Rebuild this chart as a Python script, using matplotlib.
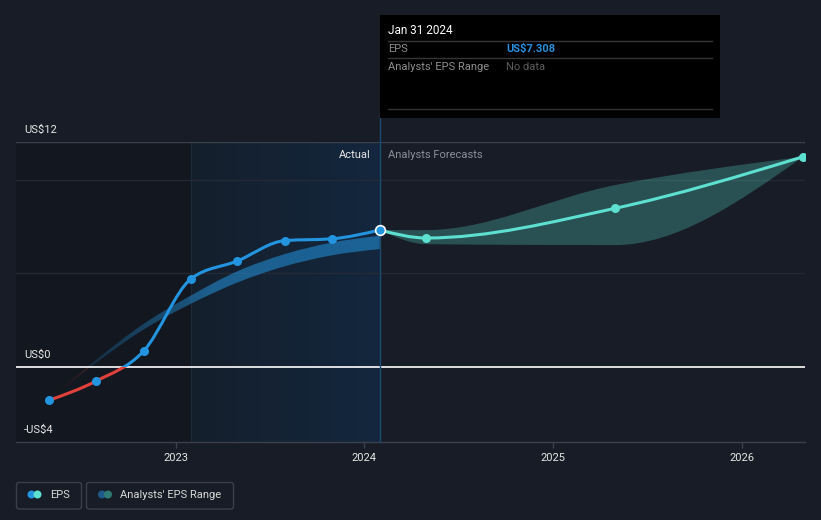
"""EPS history and analyst forecast chart (dark theme)."""

import numpy as np
import matplotlib

matplotlib.use("Agg")
import matplotlib.pyplot as plt
import matplotlib.dates as mdates
from matplotlib.patches import PathPatch, Rectangle, FancyBboxPatch, Circle
from matplotlib.path import Path

plt.rcParams["font.family"] = ["Roboto", "DejaVu Sans"]

# ---- data -----------------------------------------------------------------
actual_dates = ["2022-04-30", "2022-07-31", "2022-10-31", "2023-01-31",
                "2023-04-30", "2023-07-31", "2023-10-31", "2024-01-31"]
actual_eps = [-1.78, -0.75, 0.85, 4.71, 5.65, 6.74, 6.84, 7.308]
past_range_low = [-1.78, 0.22, 2.0, 3.38, 4.5, 5.37, 5.96, 6.29]
past_range_high = [-1.78, 0.38, 2.3, 3.82, 5.1, 6.02, 6.64, 7.0]

forecast_dates = ["2024-01-31", "2024-04-30", "2025-04-30", "2026-04-30"]
forecast_eps = [7.308, 6.88, 8.46, 11.22]
forecast_low = [7.308, 6.55, 6.5, 11.22]
forecast_high = [7.308, 7.3, 9.7, 11.22]

year_ticks = ["2023", "2024", "2025", "2026"]
y_label_values = [12, 0, -4]
y_label_texts = ["US$12", "US$0", "-US$4"]

# ---- style ----------------------------------------------------------------
BG = "#171c26"
BLUE = "#2394df"
RED = "#e0413b"
TEAL = "#5de0d0"
W, H = 821, 520


def num(dates):
    return mdates.date2num(np.array(dates, dtype="datetime64[D]"))


def smooth(x, y):
    """Monotone cubic bezier control points (d3 monotoneX style)."""
    x = np.asarray(x, float)
    y = np.asarray(y, float)
    h = np.diff(x)
    s = np.diff(y) / h
    m = np.zeros_like(y)
    for i in range(1, len(x) - 1):
        p = (s[i - 1] * h[i] + s[i] * h[i - 1]) / (h[i - 1] + h[i])
        m[i] = (np.sign(s[i - 1]) + np.sign(s[i])) * min(abs(s[i - 1]), abs(s[i]), 0.5 * abs(p))
    m[0] = (3 * s[0] - m[1]) / 2
    m[-1] = (3 * s[-1] - m[-2]) / 2
    verts = []
    for i in range(len(x) - 1):
        dx = h[i] / 3
        verts += [(x[i] + dx, y[i] + dx * m[i]), (x[i + 1] - dx, y[i + 1] - dx * m[i + 1]),
                  (x[i + 1], y[i + 1])]
    return verts


def line_path(x, y):
    verts = [(x[0], y[0])] + smooth(x, y)
    return Path(verts, [Path.MOVETO] + [Path.CURVE4] * (len(verts) - 1))


def band_path(x, lo, hi):
    upper = smooth(x, hi)
    lower = smooth(x[::-1], lo[::-1])
    verts = [(x[0], hi[0])] + upper + [(x[-1], lo[-1])] + lower + [(x[0], hi[0])]
    codes = ([Path.MOVETO] + [Path.CURVE4] * len(upper) + [Path.LINETO]
             + [Path.CURVE4] * len(lower) + [Path.CLOSEPOLY])
    return Path(verts, codes)


xa = num(actual_dates)
xf = num(forecast_dates)
x_left = num(["2022-02-26"])[0]
x_right = num(["2026-05-03"])[0]
x_q_start = num(["2023-01-31"])[0]
x_now = xa[-1]

fig = plt.figure(figsize=(W / 100, H / 100), dpi=100, facecolor=BG)
ax = fig.add_axes([16 / W, 1 - 442 / H, 789 / W, 300 / H])
ax.set_facecolor(BG)

# background regions
ax.axvspan(x_left, x_q_start, color="#13171f", lw=0, zorder=0)
grad = np.zeros((1, 256, 4))
c0 = np.array([21, 31, 44]) / 255
c1 = np.array([19, 39, 62]) / 255
t = np.linspace(0, 1, 256)
grad[0, :, :3] = c0 + (c1 - c0) * t[:, None]
grad[0, :, 3] = 1
ax.imshow(grad, extent=[x_q_start, x_now, -4, 12], aspect="auto", origin="lower",
          interpolation="bilinear", zorder=0.5)
ax.plot([x_q_start, x_q_start], [-4, 12], color="#1c2a3a", lw=0.8, zorder=0.6)

# grid lines
ax.axhline(12, color="#3b414b", lw=1, zorder=1)
for v in (10, 5):
    ax.axhline(v, color="#232a35", lw=1, zorder=1)

# past analysts' range band with left fade
past_patch = PathPatch(band_path(xa, np.array(past_range_low), np.array(past_range_high)),
                       facecolor="none", edgecolor="none")
ax.add_patch(past_patch)
rows, cols = 320, 400
band_img = np.zeros((rows, cols, 4))
yy = np.linspace(-4, 12, rows)
xx = np.linspace(xa[0], x_now, cols)
blue_rgb = np.array(matplotlib.colors.to_rgb(BLUE))
red_rgb = np.array(matplotlib.colors.to_rgb(RED))
band_img[yy >= 0, :, :3] = blue_rgb
band_img[yy < 0, :, :3] = red_rgb
fade = np.clip((xx - xa[0]) / (x_q_start + 40 - xa[0]), 0, 1) ** 0.85
band_img[:, :, 3] = 0.55 * fade[None, :]
im = ax.imshow(band_img, extent=[xa[0], x_now, -4, 12], aspect="auto", origin="lower",
               interpolation="bilinear", zorder=2)
im.set_clip_path(past_patch)

# forecast band
ax.add_patch(PathPatch(band_path(xf, np.array(forecast_low), np.array(forecast_high)),
                       facecolor=TEAL, alpha=0.27, edgecolor="none", zorder=2))

# zero line
ax.axhline(0, color="white", lw=1.2, zorder=2.5)

# now line
ax.plot([x_now, x_now], [-4, 13.3], color="#1d4a72", lw=1, clip_on=False, zorder=2.6)

# actual EPS line: blue above zero, red below
eps_path = line_path(xa, actual_eps)
above = Rectangle((x_left, 0), x_right - x_left, 40, transform=ax.transData)
below = Rectangle((x_left, -40), x_right - x_left, 40, transform=ax.transData)
p_blue = PathPatch(eps_path, facecolor="none", edgecolor=BLUE, lw=2.2, zorder=3, capstyle="round")
p_red = PathPatch(eps_path, facecolor="none", edgecolor=RED, lw=2.2, zorder=3, capstyle="round")
ax.add_patch(p_blue)
ax.add_patch(p_red)
p_blue.set_clip_path(above)
p_red.set_clip_path(below)

# forecast line
ax.add_patch(PathPatch(line_path(xf, forecast_eps), facecolor="none", edgecolor=TEAL,
                       lw=2.2, zorder=3))

# markers
ax.plot(xa[:-1], actual_eps[:-1], "o", ms=6.5, color=BLUE, mec="none", zorder=4)
ax.plot(xf[1:], forecast_eps[1:], "o", ms=6.5, color=TEAL, mec="none", zorder=4)
ax.plot(xa[-1:], actual_eps[-1:], "o", ms=7, color=BLUE, mec="white", mew=1.2, zorder=5)

ax.set_xlim(x_left, x_right)
ax.set_ylim(-4, 12)

# axes cosmetics
for side in ("top", "left", "right"):
    ax.spines[side].set_visible(False)
ax.spines["bottom"].set_color("#3b414b")
ax.spines["bottom"].set_linewidth(1)
ax.set_yticks([])
ax.set_xticks(num([f"{y}-01-01" for y in year_ticks]))
ax.set_xticklabels(year_ticks)
ax.tick_params(axis="x", length=4, width=1, color="#3b414b", labelcolor="#e6e6e6",
               labelsize=8, pad=4)

ytr = ax.get_yaxis_transform()
for v, s in zip(y_label_values, y_label_texts):
    ax.text(8 / 789, v + 12 / 18.75, s, transform=ytr, color="#e6e6e6", fontsize=8,
            va="center", ha="left", zorder=6)

ax.text(x_now - 9 / 0.5175, 12 - 12.5 / 18.75, "Actual", color="#e6e6e6", fontsize=8,
        va="center", ha="right", zorder=6)
ax.text(x_now + 8 / 0.5175, 12 - 12.5 / 18.75, "Analysts Forecasts", color="#8a8f98",
        fontsize=8, va="center", ha="left", zorder=6)

# ---- overlay in pixel coordinates: tooltip and legend ----------------------
ov = fig.add_axes([0, 0, 1, 1], zorder=10)
ov.set_xlim(0, W)
ov.set_ylim(H, 0)
ov.axis("off")

ov.add_patch(Rectangle((380, 15), 340, 103, facecolor="black", edgecolor="none"))
for yline in (41, 58.3, 109.3):
    ov.plot([388, 712], [yline, yline], color="#363636", lw=1)
ov.text(388, 31, "Jan 31 2024", color="white", fontsize=8.5, va="center")
ov.text(388, 49, "EPS", color="#8c8c8c", fontsize=8, va="center")
ov.text(506.5, 49, "US$7.308", color="#2a8fdc", fontsize=8, va="center", fontweight="bold")
ov.text(388, 66.5, "Analysts' EPS Range", color="#8c8c8c", fontsize=8, va="center")
ov.text(506.5, 66.5, "No data", color="#5c5c5c", fontsize=8, va="center")

ov.add_patch(FancyBboxPatch((16.5, 482.5), 65, 26.5, boxstyle="round,pad=0,rounding_size=2.5",
                            facecolor="none", edgecolor="#3a3f4a", lw=1))
ov.add_patch(FancyBboxPatch((86.5, 482.5), 147, 26.5, boxstyle="round,pad=0,rounding_size=2.5",
                            facecolor="none", edgecolor="#3a3f4a", lw=1))
ov.add_patch(Circle((31.5, 494.5), 4, facecolor=BLUE, edgecolor="none"))
ov.add_patch(Circle((37.5, 494.5), 4, facecolor=TEAL, edgecolor="none"))
ov.add_patch(Circle((102, 494.5), 4, facecolor="#1f5a8a", edgecolor="none"))
ov.add_patch(Circle((108, 494.5), 4, facecolor="#2f7a74", edgecolor="none"))
ov.text(50, 494.5, "EPS", color="#d8d8d8", fontsize=8, va="center")
ov.text(120, 494.5, "Analysts' EPS Range", color="#d8d8d8", fontsize=8, va="center")

fig.savefig("out.png", dpi=100, facecolor=BG)
